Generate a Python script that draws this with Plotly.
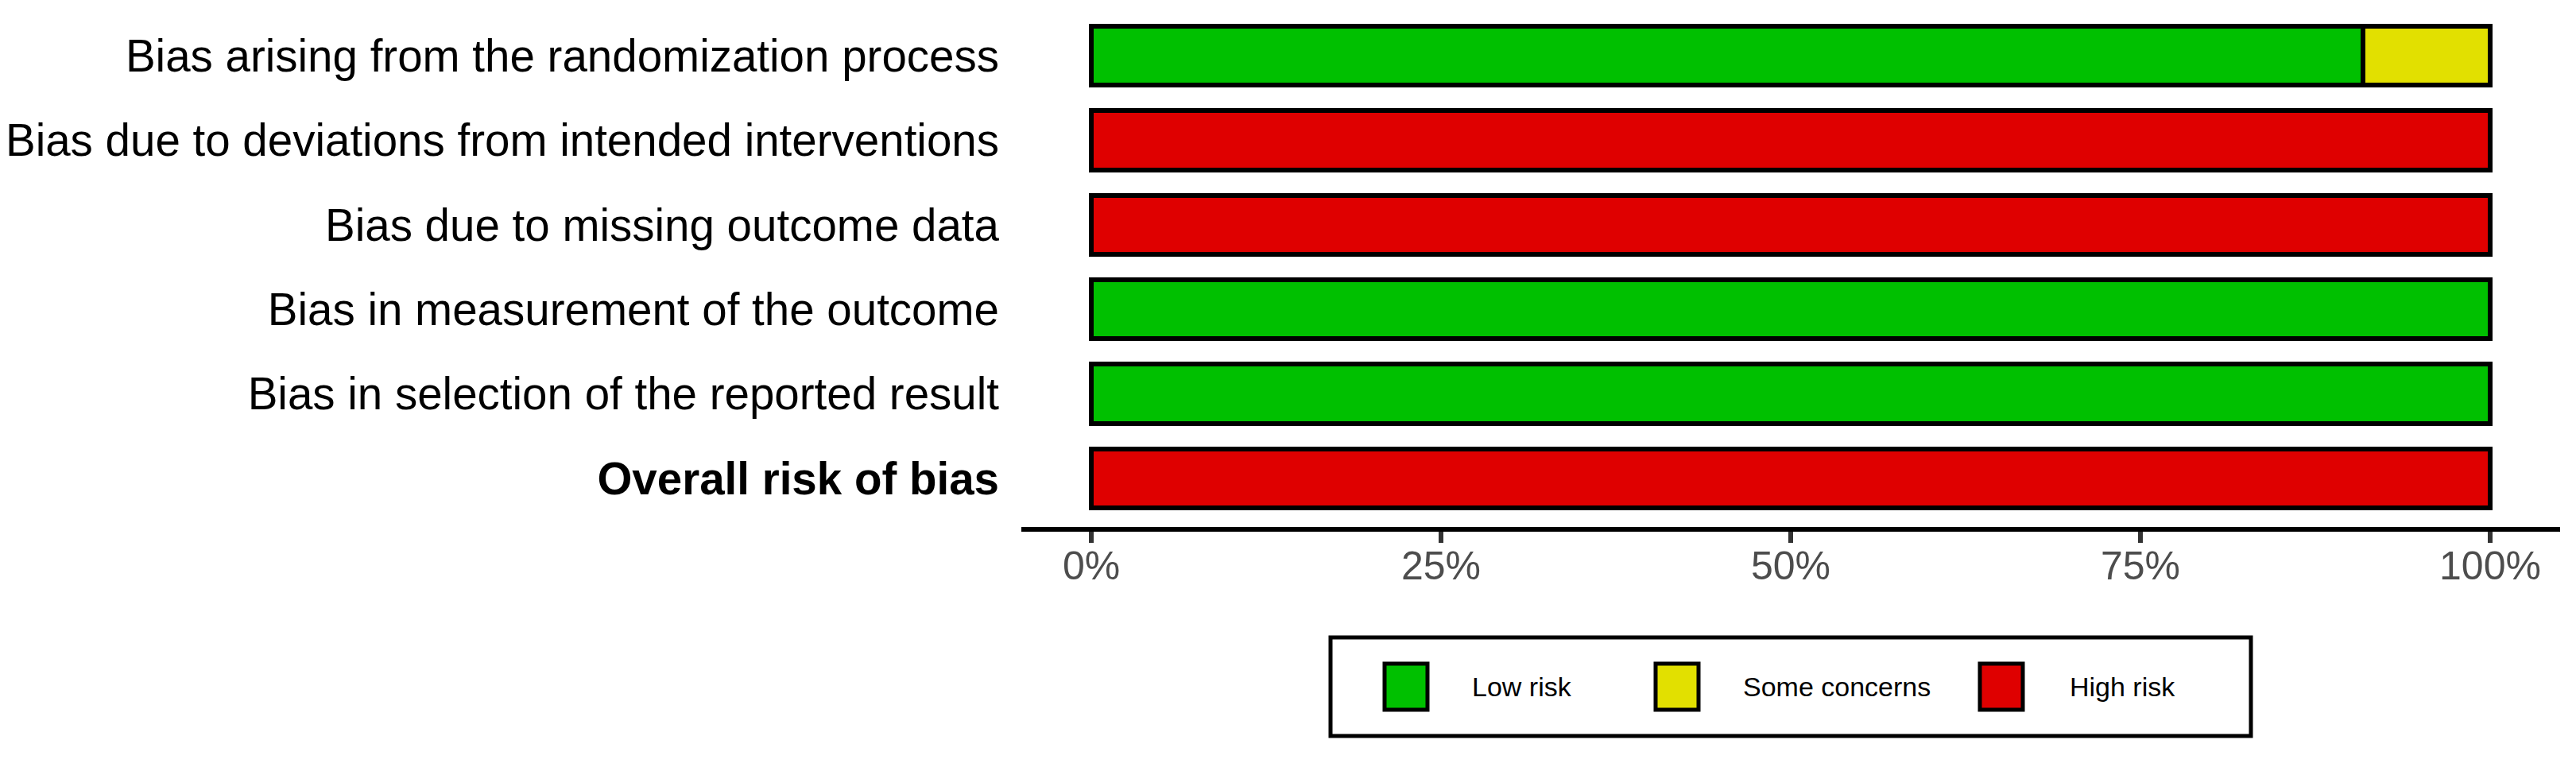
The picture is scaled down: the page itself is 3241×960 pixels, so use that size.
import plotly.graph_objects as go

# ---- data ----
domains = [
    "Bias arising from the randomization process",
    "Bias due to deviations from intended interventions",
    "Bias due to missing outcome data",
    "Bias in measurement of the outcome",
    "Bias in selection of the reported result",
    "Overall risk of bias",
]
low_risk = [90.9, 0, 0, 100, 100, 0]
some_concerns = [9.1, 0, 0, 0, 0, 0]
high_risk = [0, 100, 100, 0, 0, 100]
legend_labels = ["Low risk", "Some concerns", "High risk"]
x_ticks = [0, 25, 50, 75, 100]
x_tick_labels = ["0%", "25%", "50%", "75%", "100%"]

# ---- style ----
colors = ["#00C000", "#E2E000", "#DF0000"]
FONT = "Liberation Sans, Arial, Helvetica, sans-serif"
W, H = 3241, 960
L, R, T, B = 1285, 20, 6, 297

fig = go.Figure()
for vals, name, col in zip([low_risk, some_concerns, high_risk], legend_labels, colors):
    fig.add_trace(go.Bar(
        y=domains, x=vals, name=name, orientation="h", width=0.7,
        marker=dict(color=col, line=dict(color="black", width=6)),
        showlegend=False, hoverinfo="skip",
    ))

ticktext = [d if i < len(domains) - 1 else f"<b>{d}</b>" for i, d in enumerate(domains)]

fig.update_layout(
    width=W, height=H, barmode="stack",
    margin=dict(l=L, r=R, t=T, b=B, pad=0),
    paper_bgcolor="white", plot_bgcolor="white",
    font=dict(family=FONT, color="black"),
    xaxis=dict(range=[-5, 105], tickvals=x_ticks, ticktext=x_tick_labels,
               showgrid=False, zeroline=False, showline=True, linecolor="black",
               linewidth=6, ticks="outside", ticklen=14, tickwidth=6,
               tickcolor="#333333", ticklabelstandoff=-14,
               tickfont=dict(size=50, color="#4D4D4D", family=FONT)),
    yaxis=dict(type="category", range=[5.572, -0.6], tickmode="array",
               tickvals=domains, ticktext=ticktext, showgrid=False, zeroline=False,
               showline=False, ticks="", ticklabelstandoff=27,
               tickfont=dict(size=56.5, color="black", family=FONT)),
)

# ---- legend drawn as a boxed key ----
def px_x(px):
    return (px - L) / (W - L - R)

def px_y(py):
    return (H - B - py) / (H - T - B)

fig.add_shape(type="rect", xref="paper", yref="paper",
              x0=px_x(1674), x1=px_x(2832), y0=px_y(926), y1=px_y(802),
              line=dict(color="black", width=5), fillcolor="white")
key_x = [1742, 2083, 2491]
text_x = [1850, 2191, 2602]
for kx, tx, lab, col in zip(key_x, text_x, legend_labels, colors):
    fig.add_shape(type="rect", xref="paper", yref="paper",
                  x0=px_x(kx), x1=px_x(kx + 54), y0=px_y(893), y1=px_y(835),
                  line=dict(color="black", width=5), fillcolor=col)
    fig.add_annotation(xref="paper", yref="paper", x=px_x(tx), y=px_y(864),
                       text=lab, showarrow=False, xanchor="left", yanchor="middle",
                       font=dict(size=34, color="black", family=FONT))

fig.write_html("out.html", config={"displayModeBar": False},
               post_script="document.body.style.margin='0';")
